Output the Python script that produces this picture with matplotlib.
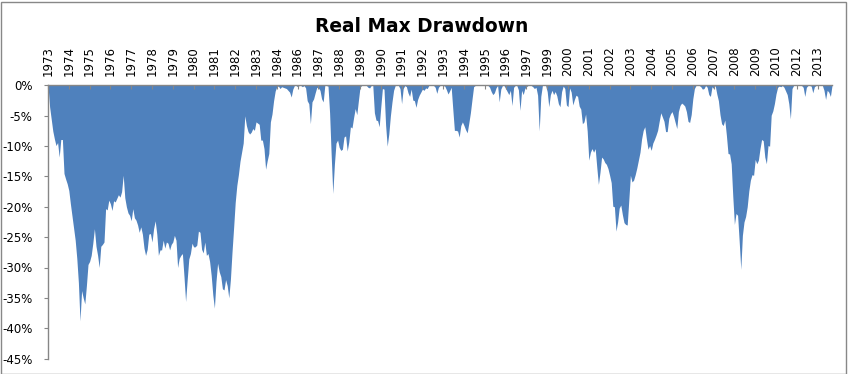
import numpy as np
import matplotlib
matplotlib.use("Agg")
import matplotlib.pyplot as plt
from matplotlib.patches import Rectangle

title = "Real Max Drawdown"

# Monthly real drawdown (%), Jan 1973 onwards
dd_1973_1978 = [
    0, -3.5, -5.5, -7.5, -8.8, -9.9, -9.4, -11.8, -8.9, -8.9, -14.5, -15.4, -16.2,
    -17.3, -19.5, -21.5, -23.5, -25.5, -28.5, -32.5, -38.8, -33.8, -35, -36, -33, -29.5,
    -29, -28, -26, -23.6, -26.5, -28, -30, -26.5, -26.2, -25.8, -20.3, -20.5, -18.9,
    -19.5, -20.6, -19, -19.2, -18.6, -18, -18.4, -17.5, -14.8, -18.5, -20, -21, -21.4,
    -22.3, -20.3, -21.8, -22.2, -23, -24.2, -23.3, -24.5, -26.8, -28, -27, -24.5, -24.4,
    -25.8, -23.6, -22.3, -24.5, -28,
]
dd_1978_1984 = [
    -27.1, -27.1, -25.5, -26.8, -25.8, -26, -27.1, -26.2, -25.8, -24.7, -25.5, -30,
    -28.5, -28, -27.7, -31.5, -35.6, -32, -28.6, -27.7, -26, -26.6, -26.6, -26.3, -24,
    -24.2, -27, -27.6, -25.8, -28, -27.7, -29, -31.3, -34.5, -36.7, -32.3, -29.3, -30.7,
    -31.5, -33.5, -33.7, -32, -33, -35, -32, -27.5, -23.5, -19.3, -16.5, -14.7, -12.5,
    -11, -9.5, -5, -6.6, -7.6, -8, -7.7, -7.1, -7.4, -6, -6.2, -6.4, -9, -9, -10.4,
    -13.8, -12.4, -11.2, -6, -4.7,
]
dd_1984_1990 = [
    -2.5, -0.9, -0.2, -0.1, -0.5, -0.2, -0.3, -0.4, -0.5, -0.8, -1.1, -1.9, -0.6, 0, 0,
    -0.2, 0, 0, -0.2, 0, -0.4, -2.5, -3, -6.3, -2.7, -2.2, -1.2, -0.3, -0.4, -0.8, -2.2,
    -2.7, 0, 0, -0.1, -4.5, -11.5, -17.8, -13, -9.5, -9, -10.2, -10.7, -10.5, -8.5,
    -8.3, -10.8, -9.3, -6.8, -7, -5.3, -3.8, -4.8, -2.5, -0.3, 0, 0, 0, 0, -0.3, -0.4,
    0, 0, -4.5, -5.7, -5.8, -6.8, -3.5, -0.5, -0.6,
]
dd_1990_1996 = [
    -6.5, -10, -8.0, -5, -2.7, -0.8, 0, 0, 0, -0.5, -3, -0.5, 0, -0.2, -1.2, -1.8, -0.6,
    -2.4, -2.5, -3.6, -2.3, -1.6, -1.1, -0.6, -0.8, -0.4, -0.5, 0, 0, 0, 0, -0.3, -1.3,
    -0.3, 0, 0, 0, -0.1, -0.7, -1.4, -0.9, -0.3, -3.9, -7.4, -7.4, -7.5, -8.5, -6.6, -6,
    -6.6, -7.3, -7.8, -6.2, -4.5, -2.3, -0.2, 0, 0, 0, 0, 0, 0, 0, 0, 0, -0.3, -1.0,
    -1.5, -1.2, -0.4, 0,
]
dd_1996_2002 = [
    -2.7, -0.6, 0, 0, -0.5, -1.0, -1.5, -0.8, -3.3, -0.3, 0, 0, -0.7, -4.1, -0.8, -1.5,
    -0.5, -0.2, 0, 0, 0, -0.2, -0.5, -0.3, -1.6, -7.5, -1.8, 0, 0, 0, -1.0, -3.5, -1.5,
    -0.8, -1.5, -1.0, -1.7, -3.0, -3.5, -1.0, -0.1, -0.5, -3.2, -3.5, -0.4, -1.1, -3.2,
    -2.3, -1.6, -1.8, -3.4, -3.9, -6.3, -6, -4.7, -7.5, -12.3, -11, -10.4, -11, -10.4,
    -13.5, -16.3, -14.3, -11.8, -12.1, -12.7, -13, -13.7, -14.8, -16,
]
dd_2002_2008 = [
    -19.9, -20, -24, -22.5, -20.2, -19.7, -21.3, -22.6, -22.9, -23, -18.9,
    -14.8, -15.9, -15.6, -14.7, -13.6, -12.3, -11, -8.8, -7.4, -6.8, -8.8, -10.5, -9.9,
    -10.7, -9.5, -8.9, -8.2, -7.4, -5.9, -4.5, -5.2, -5.9, -7.6, -7.6, -5.4, -4.7, -4.3,
    -5.1, -6.1, -7.1, -4.3, -3.3, -2.9, -3.1, -3.4, -4.3, -5.9, -6.1, -4.8, -2.2, -0.5,
    0, 0, 0, -0.2, -0.6, -0.5, 0, -0.3, -1.5, -1.8, -0.2, -0.5, 0, -1.4, -2.5, -4.8,
    -6.3, -6.6,
]
dd_2008_2013 = [
    -5.7, -8.2, -11.2, -11.3, -12.9, -18.3, -22.9, -21.1, -21.4, -25.7, -30.3, -24.7,
    -22.5, -21.6, -20, -17.4, -15.6, -14.7, -14.8, -12.2, -12.9, -12.3, -10.4, -8.9,
    -9.1, -11.8, -12.9, -9.9, -10, -4.9, -4.2, -3, -1.4, -0.3, -0.1, -0.2, 0, -0.3,
    -0.9, -1.5, -3, -5.5, -0.5, 0, 0, 0, 0, 0, 0, -0.3, -1.8, -0.3, 0, 0, -0.1, -1.2,
    -0.2, 0, 0, 0, 0, 0, -0.8, -2.3, -0.8, -1.1, -1.8, 0,
]

drawdown = (dd_1973_1978 + dd_1978_1984 + dd_1984_1990 + dd_1990_1996
            + dd_1996_2002 + dd_2002_2008 + dd_2008_2013)

tick_labels = ["1973", "1974", "1975", "1976", "1977", "1978", "1979", "1980",
               "1981", "1982", "1983", "1984", "1986", "1987", "1988", "1989",
               "1990", "1991", "1992", "1993", "1994", "1995", "1996", "1997",
               "1999", "2000", "2001", "2002", "2003", "2004", "2005", "2006",
               "2007", "2008", "2009", "2010", "2012", "2013"]
tick_interval = 13  # category label interval (months)
y_ticks = [0, -5, -10, -15, -20, -25, -30, -35, -40, -45]

fill_color = "#4F81BD"
axis_color = "#868686"

W, H = 848, 374
fig = plt.figure(figsize=(W / 100, H / 100), dpi=100)
x0, x1 = 48, 832
ytop, ybot = 85.5, 358.5
ax = fig.add_axes([x0 / W, (H - ybot) / H, (x1 - x0) / W, (ybot - ytop) / H])

x = np.arange(len(drawdown))
ax.fill_between(x, drawdown, 0, color=fill_color, linewidth=0)
ax.set_xlim(0, len(drawdown) - 1)
ax.set_ylim(-45, 0)

ax.set_yticks(y_ticks)
ax.set_yticklabels([f"{v}%" for v in y_ticks])

ax.xaxis.tick_top()
ax.set_xticks([i * tick_interval for i in range(len(tick_labels))])
ax.set_xticklabels(tick_labels, rotation=90)

for s in ["right", "bottom"]:
    ax.spines[s].set_visible(False)
for s in ["top", "left"]:
    ax.spines[s].set_color(axis_color)
    ax.spines[s].set_linewidth(1.0)

ax.tick_params(axis="x", direction="in", length=3, color=axis_color,
               pad=6.5, labelsize=8.5)
ax.tick_params(axis="y", direction="out", length=3, color=axis_color,
               pad=8, labelsize=8.5)

fig.text(422 / W, 1 - 27 / H, title, ha="center", va="center",
         fontsize=13.4, fontweight="bold")

fig.patches.append(Rectangle((0.5 / W, 0.5 / H), (W - 2.5) / W, (H - 2) / H,
                             transform=fig.transFigure, fill=False,
                             edgecolor="#888888", linewidth=1))

fig.savefig("out.png", dpi=100)
